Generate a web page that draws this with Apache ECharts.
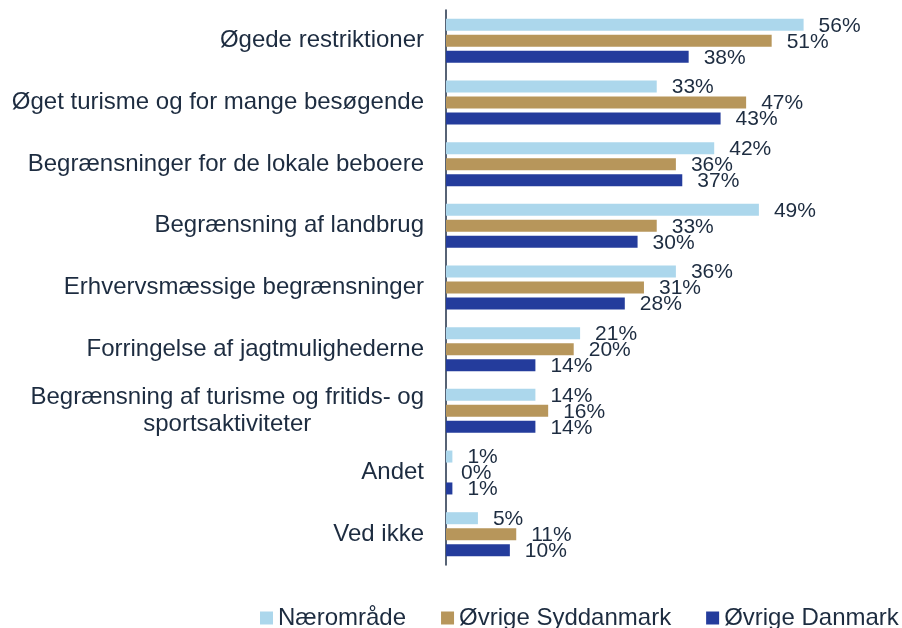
<!DOCTYPE html>
<html>
<head>
<meta charset="utf-8">
<script src="https://cdn.jsdelivr.net/npm/echarts@6/dist/echarts.min.js"></script>
<style>html,body{margin:0;padding:0;background:#fff}#main{width:902px;height:628px}</style>
</head>
<body>
<div id="main"></div>
<script>
var categories = [
    'Øgede restriktioner',
    'Øget turisme og for mange besøgende',
    'Begrænsninger for de lokale beboere',
    'Begrænsning af landbrug',
    'Erhvervsmæssige begrænsninger',
    'Forringelse af jagtmulighederne',
    'Begrænsning af turisme og fritids- og\nsportsaktiviteter',
    'Andet',
    'Ved ikke'
];
var seriesNames = ['Nærområde', 'Øvrige Syddanmark', 'Øvrige Danmark'];
var naeromraade = [56, 33, 42, 49, 36, 21, 14, 1, 5];
var oevrigeSyd = [51, 47, 36, 33, 31, 20, 16, 0, 11];
var oevrigeDk = [38, 43, 37, 30, 28, 14, 14, 1, 10];

var textColor = '#1d2c40';
var font = 'Liberation Sans, Arial, sans-serif';

var myChart = echarts.init(document.getElementById('main'));

var barLabel = {
    show: true,
    position: 'right',
    distance: 15,
    offset: [0, 1],
    formatter: '{c}%',
    color: textColor,
    fontSize: 21,
    fontFamily: font
};

var option = {
    animation: false,
    textStyle: {fontFamily: font},
    legend: {
        data: seriesNames,
        left: 260,
        top: 606,
        width: 760,
        padding: 0,
        icon: 'rect',
        itemWidth: 13,
        itemHeight: 13,
        itemGap: 35,
        textStyle: {color: textColor, fontSize: 24, fontFamily: font}
    },
    grid: {left: 446, right: 9, top: 10, bottom: 63},
    xAxis: {
        type: 'value',
        min: 0,
        max: 70,
        show: false
    },
    yAxis: {
        type: 'category',
        inverse: true,
        data: categories,
        axisTick: {show: false},
        axisLine: {lineStyle: {color: '#1f2f47', width: 1.5}},
        axisLabel: {
            margin: 22,
            color: textColor,
            fontSize: 24,
            fontFamily: font,
            lineHeight: 27,
            formatter: function (v) {
                var parts = v.split('\n');
                if (parts.length < 2) return v;
                return '{a|' + parts[0] + '}\n{b|' + parts[1] + '}';
            },
            rich: {
                a: {fontSize: 24, color: textColor, fontFamily: font, lineHeight: 27},
                b: {fontSize: 24, color: textColor, fontFamily: font, lineHeight: 27, align: 'center'}
            }
        }
    },
    series: [
        {name: seriesNames[0], type: 'bar', data: naeromraade, barWidth: 12, barGap: '33%', itemStyle: {color: '#acd7ec'}, label: barLabel},
        {name: seriesNames[1], type: 'bar', data: oevrigeSyd, barWidth: 12, barGap: '33%', itemStyle: {color: '#b7965b'}, label: barLabel},
        {name: seriesNames[2], type: 'bar', data: oevrigeDk, barWidth: 12, barGap: '33%', itemStyle: {color: '#243c9c'}, label: barLabel}
    ]
};

myChart.setOption(option);
</script>
</body>
</html>
